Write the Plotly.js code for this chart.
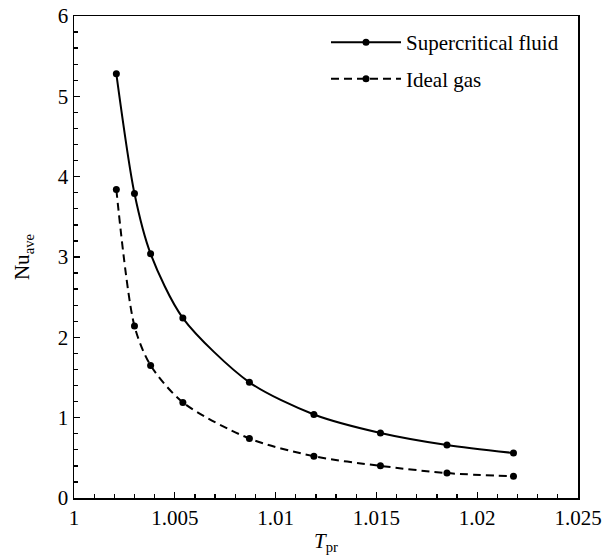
<!DOCTYPE html>
<html>
<head>
<meta charset="utf-8">
<script src="https://cdn.plot.ly/plotly-3.0.1.min.js"></script>
<style>
html,body{margin:0;padding:0;background:#fff;}
#chart{width:609px;height:555px;}
#chart text{font-family:"Liberation Serif","Times New Roman",serif !important;}
</style>
</head>
<body>
<div id="chart"></div>
<script>
const tpr = [1.0021, 1.0030, 1.0038, 1.0054, 1.0087, 1.0119, 1.0152, 1.0185, 1.0218];
const nuSupercritical = [5.28, 3.79, 3.04, 2.24, 1.44, 1.04, 0.81, 0.66, 0.56];
const nuIdealGas = [3.84, 2.14, 1.65, 1.19, 0.74, 0.52, 0.40, 0.31, 0.27];
const seriesNames = ["Supercritical fluid", "Ideal gas"];

const FAMILY = "Liberation Serif";
function f(size) { return {family: FAMILY, size: size, color: "#000"}; }

const traces = [
  {x: tpr, y: nuSupercritical, name: seriesNames[0], mode: "lines+markers", type: "scatter",
   line: {color: "#000", width: 2, shape: "spline", smoothing: 0.8},
   marker: {color: "#000", size: 7}, legend: "legend"},
  {x: tpr, y: nuIdealGas, name: seriesNames[1], mode: "lines+markers", type: "scatter",
   line: {color: "#000", width: 2, dash: "8px,5px", shape: "spline", smoothing: 0.8},
   marker: {color: "#000", size: 7}, legend: "legend2"}
];

function axisCommon() {
  return {
    showline: true, linecolor: "#000", linewidth: 1.5, mirror: true,
    showgrid: false, zeroline: false,
    ticks: "inside", ticklen: 6, tickwidth: 1.3, tickcolor: "#000",
    tickfont: f(21)
  };
}

const layout = {
  width: 609, height: 555,
  margin: {l: 74, r: 31, t: 16, b: 57},
  paper_bgcolor: "#fff", plot_bgcolor: "#fff",
  font: f(21),
  showlegend: true,
  xaxis: Object.assign(axisCommon(), {
    range: [1, 1.025],
    tickvals: [1, 1.005, 1.01, 1.015, 1.02, 1.025],
    ticktext: ["1", "1.005", "1.01", "1.015", "1.02", "1.025"],
    minor: {dtick: 0.001, tick0: 1, ticks: "inside", ticklen: 4, tickwidth: 1.3, tickcolor: "#000"},
    title: {text: "<i>T</i><sub>pr</sub>", font: f(21), standoff: 4}
  }),
  yaxis: Object.assign(axisCommon(), {
    range: [0, 6], dtick: 1, tick0: 0,
    minor: {dtick: 0.2, ticks: "inside", ticklen: 4, tickwidth: 1.3, tickcolor: "#000"},
    title: {text: "Nu<sub>ave</sub>", font: f(21), standoff: 22}
  }),
  legend: {x: 0.5, y: 0.945, xanchor: "left", yanchor: "middle", itemwidth: 70,
           bgcolor: "rgba(0,0,0,0)", font: f(21)},
  legend2: {x: 0.5, y: 0.869, xanchor: "left", yanchor: "middle", itemwidth: 70,
            bgcolor: "rgba(0,0,0,0)", font: f(21)}
};

Plotly.newPlot("chart", traces, layout, {displayModeBar: false, staticPlot: true});
</script>
</body>
</html>
